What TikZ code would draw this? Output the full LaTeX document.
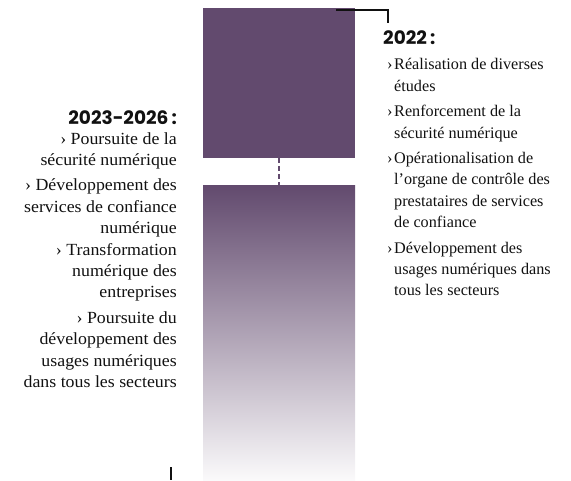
\documentclass[tikz,border=0pt]{standalone}
\usepackage{fontspec}
\setmainfont{Liberation Serif}
\newfontfamily\widefont{Liberation Serif}[FakeStretch=1.05]
\newfontfamily\headfont{Poppins}
\usepackage{xcolor}
\usepackage{tikz}
\usetikzlibrary{positioning}
\definecolor{plum}{HTML}{624A6E}
\definecolor{ink}{HTML}{111111}
\newcommand{\itm}{\hspace*{4pt}\makebox[7pt][l]{›}}
\newcommand{\cnt}{\hspace*{11pt}}
\tikzset{
  bar/.style={fill=plum, inner sep=0pt, minimum width=152pt},
  fadebar/.style={top color=plum, bottom color=white!97!plum, inner sep=0pt, minimum width=152pt},
  link/.style={draw=plum, line width=2.2pt, dash pattern=on 5pt off 3pt},
  tick/.style={draw=ink, line width=2pt, line join=miter},
  yr/.style={text=ink, inner sep=0pt, font=\headfont\bfseries\fontsize{18.5}{20}\selectfont},
  body/.style={text=ink, font=\fontsize{16.2}{21.4}\selectfont, inner sep=0pt},
  bodyw/.style={text=ink, font=\widefont\fontsize{17}{21.4}\selectfont, inner sep=0pt},
}

\begin{document}
\begin{tikzpicture}[x=1pt, y=-1pt]
  \useasboundingbox (0,0) rectangle (571,480);

  % timeline
  \node[bar, minimum height=150pt] (p2022) at (279,83) {};
  \node[fadebar, minimum height=295pt] (p2026) at (279,332.5) {};
  \draw[link] (p2022.south) -- (p2026.north);

  \coordinate (k1) at (336,9.5);
  \coordinate (k2) at (388,9.5);
  \coordinate (k3) at (388,23);
  \draw[tick] (k1) -- (k2) -- (k3);
  \coordinate (m1) at (171,467);
  \coordinate (m2) at (171,480);
  \draw[tick] (m1) -- (m2);

  % 2022
  \node[yr, anchor=base west] (h2022) at (383,44) {2022\,:};
  \node[body, anchor=north west, align=left] (t2022) at (383,58.5) {%
    \itm Réalisation de diverses\\
    \cnt études\\[4pt]
    \itm Renforcement de la\\
    \cnt sécurité numérique\\[4pt]
    \itm Opérationalisation de\\
    \cnt l’organe de contrôle des\\
    \cnt prestataires de services\\
    \cnt de confiance\\[4pt]
    \itm Développement des\\
    \cnt usages numériques dans\\
    \cnt tous les secteurs};

  % 2023-2026
  \node[yr, anchor=base east] (h2026) at (177,124) {2023-2026\,:};
  \node[bodyw, anchor=north east, align=right] (t2026) at (177,132) {%
    › Poursuite de la\\
    sécurité numérique\\[4pt]
    › Développement des\\
    services de confiance\\
    numérique\\
    › Transformation\\
    numérique des\\
    entreprises\\[4pt]
    › Poursuite du\\
    développement des\\
    usages numériques\\
    dans tous les secteurs};
\end{tikzpicture}
\end{document}
